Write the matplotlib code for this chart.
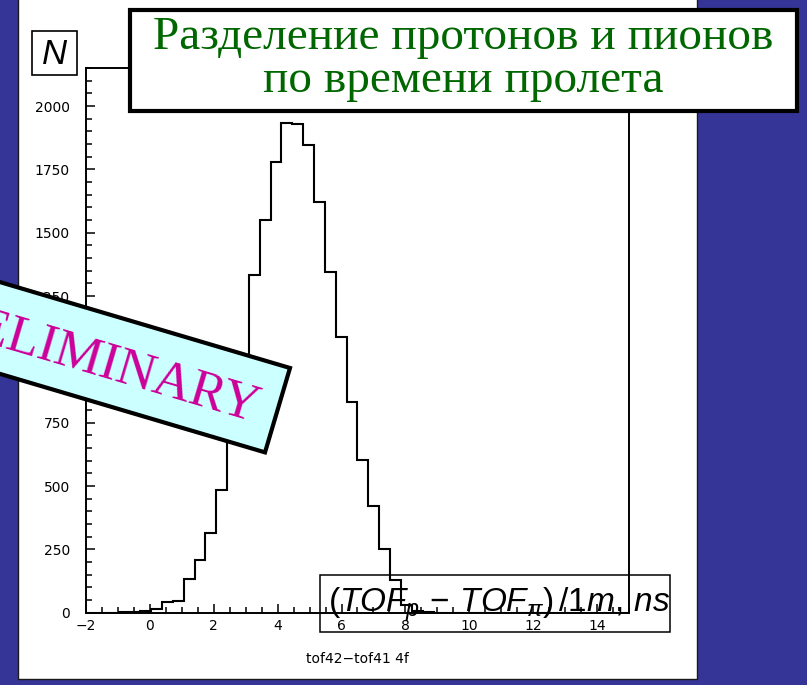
import numpy as np
import matplotlib
matplotlib.use('Agg')
import matplotlib.pyplot as plt
from matplotlib.patches import Rectangle, Polygon
from matplotlib.transforms import Affine2D
from matplotlib.ticker import MultipleLocator

# ---------------- data ----------------
bin_lo, bin_hi, n_bins = -2.0, 15.0, 50
counts = [0, 0, 0, 1, 3, 6, 14, 41, 47, 132,
          207, 315, 486, 720, 1010, 1334, 1551, 1778, 1934, 1927,
          1845, 1621, 1345, 1088, 830, 602, 422, 252, 129, 30,
          6, 2, 0, 0, 0, 0, 0, 0, 0, 0,
          0, 0, 0, 0, 0, 0, 0, 0, 0, 0]
x_ticks = [-2, 0, 2, 4, 6, 8, 10, 12, 14]
y_ticks = [0, 250, 500, 750, 1000, 1250, 1500, 1750, 2000]
y_max = 2150
title_lines = ["Разделение протонов и пионов", "по времени пролета"]
hist_name = "tof42\u2212tof41 4f"
axis_title = r"$(TOF_{p}\,-\,TOF_{\pi})\,/1m,\,ns$"
y_label = "N"
stamp = "PRELIMINARY"

# ---------------- style ----------------
plt.rcParams['font.family'] = ['Liberation Sans', 'DejaVu Sans']
plt.rcParams['mathtext.fontset'] = 'custom'
plt.rcParams['mathtext.it'] = 'Liberation Sans:italic'
plt.rcParams['mathtext.rm'] = 'Liberation Sans'
plt.rcParams['mathtext.sf'] = 'Liberation Sans'

W, H = 807, 685
fig = plt.figure(figsize=(W / 100, H / 100), dpi=100, facecolor='#353597')
px = Affine2D().scale(1 / W, -1 / H).translate(0, 1) + fig.transFigure

# white slide panel
fig.add_artist(Rectangle((18, -3), 679, 682, transform=px, facecolor='white',
                         edgecolor='#1a1a1a', lw=1.0, zorder=-5))

# axes
ax = fig.add_axes([86 / W, (H - 612.7) / H, (629 - 86) / W, (612.7 - 68) / H])
ax.set_facecolor('none')
edges = np.linspace(bin_lo, bin_hi, n_bins + 1)
ax.stairs(counts, edges, color='black', lw=1.5)
ax.set_xlim(bin_lo, bin_hi)
ax.set_ylim(0, y_max)
ax.set_xticks(x_ticks)
ax.set_yticks(y_ticks)
ax.xaxis.set_minor_locator(MultipleLocator(0.5))
ax.yaxis.set_minor_locator(MultipleLocator(50))
for s in ax.spines.values():
    s.set_linewidth(1.4)
ax.tick_params(which='both', direction='in', top=False, right=False, width=1.1)
ax.tick_params(which='major', length=6.5)
ax.tick_params(which='minor', length=4)
ax.tick_params(axis='y', which='major', pad=11.5)
ax.tick_params(axis='x', which='major', pad=4.5)
for lab in ax.get_xticklabels() + ax.get_yticklabels():
    lab.set_fontfamily('DejaVu Sans')
    lab.set_fontsize(10)

# histogram name under axis
fig.text(357, 659, hist_name, transform=px, ha='center', va='center',
         fontsize=10, family='DejaVu Sans')

# N box
fig.add_artist(Rectangle((32, 31), 45, 44, transform=px, facecolor='white',
                         edgecolor='black', lw=1.2, zorder=10))
fig.text(54.5, 64, y_label, transform=px, ha='center', va='baseline',
         fontsize=25, style='italic', zorder=11)

# title box
fig.add_artist(Rectangle((130, 10), 667, 101, transform=px, facecolor='white',
                         edgecolor='black', lw=3, zorder=10))
fig.text(463, 49, title_lines[0], transform=px, ha='center', va='baseline',
         fontsize=34, color='#006600', family='Liberation Serif', zorder=11)
fig.text(463, 92, title_lines[1], transform=px, ha='center', va='baseline',
         fontsize=34, color='#006600', family='Liberation Serif', zorder=11)

# PRELIMINARY stamp
th = np.deg2rad(16.5)
u = np.array([np.cos(th), np.sin(th)])
v = np.array([-np.sin(th), np.cos(th)])
tr = np.array([290.0, 368.0])
hgt, L = 88.0, 420.0
tl = tr - L * u
poly = [tl, tr, tr + hgt * v, tl + hgt * v]
fig.add_artist(Polygon(poly, closed=True, transform=px, facecolor='#ccffff',
                       edgecolor='black', lw=3, zorder=12))
mid_right = tr + 0.5 * hgt * v
anchor = mid_right - 197.5 * u + 18 * v
fig.text(anchor[0], anchor[1], stamp, transform=px, ha='center', va='baseline',
         rotation=-16.5, rotation_mode='anchor', fontsize=38, color='#cc0099',
         family='Liberation Serif', zorder=13)

# axis title box
fig.add_artist(Rectangle((320, 575), 350, 57, transform=px, facecolor='none',
                         edgecolor='black', lw=1.1, zorder=10))
fig.text(328, 612, axis_title, transform=px, ha='left', va='baseline',
         fontsize=24, zorder=11)

fig.savefig('out.png', dpi=100, facecolor=fig.get_facecolor())
